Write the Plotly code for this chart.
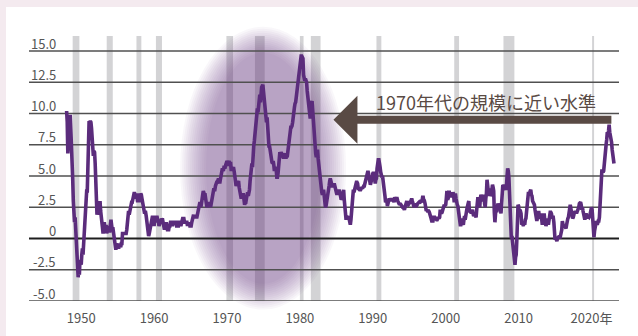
import numpy as np
import plotly.graph_objects as go

# US CPI, year-over-year change (%), monthly from Jan 1948
cpi_1948_49 = [10.2, 9.3, 6.8, 8.3, 9.4, 9.5, 9.9, 8.9, 6.5, 6.1, 4.8, 3.0,
               1.3, 1.3, 1.7, 0.4, -0.4, -0.9, -3.1, -3.1, -2.4, -2.9, -1.7, -2.1]
cpi_1950s = [-2.1, -1.3, -0.8, -1.3, -0.4, -0.4, 1.7, 2.2, 2.2, 3.8, 3.8, 5.9,
             8.1, 9.4, 9.3, 9.4, 9.3, 8.8, 7.5, 6.6, 6.6, 7.0, 6.9, 6.0,
             4.3, 2.3, 1.9, 2.3, 1.9, 2.3, 3.0, 3.0, 2.2, 1.9, 1.4, 0.9,
             0.4, 0.9, 1.3, 0.9, 0.9, 1.1, 0.4, 0.7, 0.7, 1.0, 0.6, 0.6,
             1.1, 1.5, 1.1, 0.7, 0.9, 0.4, 0.4, 0.0, -0.4, -0.9, -0.4, -0.7,
             -0.7, -0.7, -0.7, -0.4, -0.7, -0.7, -0.4, -0.4, 0.4, 0.4, 0.4, 0.4,
             0.4, 0.4, 0.4, 0.7, 1.1, 1.9, 2.2, 1.9, 2.2, 2.6, 2.6, 2.9,
             2.9, 3.3, 3.6, 3.6, 3.6, 3.2, 3.2, 3.6, 3.2, 2.9, 3.6, 2.9,
             3.6, 3.2, 3.6, 3.5, 3.2, 2.8, 2.5, 2.1, 2.1, 2.1, 2.1, 1.8,
             1.4, 1.1, 0.2, 0.2, 0.4, 0.7, 0.7, 1.1, 1.4, 1.7, 1.7, 1.7]
cpi_1960s = [1.0, 1.7, 1.4, 1.7, 1.7, 1.7, 1.4, 1.4, 1.0, 1.3, 1.3, 1.3,
             1.6, 1.5, 1.5, 1.0, 0.9, 0.7, 1.3, 1.0, 1.3, 0.7, 0.7, 0.7,
             0.7, 1.0, 1.0, 1.3, 1.3, 1.3, 1.0, 1.3, 1.3, 1.3, 1.3, 1.3,
             1.3, 1.0, 1.0, 1.0, 1.0, 1.3, 1.3, 1.3, 1.0, 1.3, 1.3, 1.6,
             1.6, 1.6, 1.3, 1.3, 1.3, 1.3, 1.3, 1.0, 1.3, 1.0, 1.3, 1.0,
             1.0, 1.0, 1.3, 1.6, 1.6, 1.9, 1.6, 1.9, 1.6, 1.9, 1.6, 1.9,
             1.9, 2.5, 2.5, 2.8, 2.8, 2.5, 2.8, 3.5, 3.5, 3.8, 3.5, 3.5,
             3.5, 2.8, 2.8, 2.5, 2.8, 2.8, 2.8, 2.8, 2.8, 2.5, 2.8, 3.1,
             3.7, 3.9, 3.9, 3.9, 3.9, 4.2, 4.5, 4.5, 4.5, 4.8, 4.8, 4.7,
             4.4, 4.7, 5.2, 5.5, 5.5, 5.5, 5.4, 5.7, 5.7, 5.7, 5.9, 6.2]
cpi_1970s = [6.2, 6.1, 5.8, 6.1, 6.1, 6.0, 6.0, 5.4, 5.7, 5.6, 5.6, 5.6,
             5.3, 5.0, 4.7, 4.2, 4.4, 4.6, 4.4, 4.6, 4.1, 3.8, 3.3, 3.3,
             3.3, 3.5, 3.5, 3.5, 3.2, 2.7, 2.9, 2.9, 3.2, 3.4, 3.7, 3.4,
             3.6, 3.9, 4.6, 5.1, 5.5, 6.0, 5.7, 7.4, 7.4, 7.8, 8.3, 8.7,
             9.4, 10.0, 10.4, 10.1, 10.7, 10.9, 11.5, 10.9, 11.9, 12.1, 12.2, 12.3,
             11.8, 11.2, 10.3, 10.2, 9.5, 9.3, 9.7, 8.6, 7.9, 7.4, 7.4, 6.9,
             6.7, 6.3, 6.1, 6.0, 6.2, 5.9, 5.4, 5.7, 5.5, 5.5, 4.9, 4.9,
             5.2, 6.0, 6.4, 6.9, 6.7, 6.9, 6.8, 6.6, 6.6, 6.4, 6.7, 6.7,
             6.8, 6.4, 6.6, 6.5, 6.9, 7.4, 7.7, 7.8, 8.3, 8.9, 8.9, 9.0,
             9.3, 9.9, 10.2, 10.5, 10.8, 10.9, 11.3, 11.8, 12.2, 12.1, 12.6, 13.3]
cpi_1980s = [13.9, 14.2, 14.6, 14.6, 14.4, 14.4, 13.1, 12.9, 12.6, 12.8, 12.6, 12.5,
             11.8, 11.4, 10.5, 10.0, 9.8, 9.6, 10.8, 10.8, 11.0, 10.1, 9.6, 8.9,
             8.4, 7.6, 6.8, 6.5, 6.7, 7.1, 6.4, 5.9, 5.0, 5.1, 4.6, 3.8,
             3.7, 3.5, 3.6, 3.9, 3.5, 2.6, 2.5, 2.6, 2.9, 2.9, 3.3, 3.8,
             4.2, 4.6, 4.8, 4.6, 4.2, 4.2, 4.2, 4.3, 4.3, 4.3, 4.1, 3.9,
             3.5, 3.5, 3.7, 3.7, 3.8, 3.8, 3.6, 3.3, 3.1, 3.2, 3.5, 3.8,
             3.9, 3.1, 2.3, 1.6, 1.5, 1.8, 1.6, 1.6, 1.8, 1.5, 1.3, 1.1,
             1.5, 2.1, 3.0, 3.8, 3.9, 3.7, 3.9, 4.3, 4.4, 4.5, 4.5, 4.4,
             4.0, 3.9, 3.9, 3.9, 3.9, 4.0, 4.1, 4.0, 4.2, 4.2, 4.2, 4.4,
             4.7, 4.8, 5.0, 5.1, 5.4, 5.2, 5.0, 4.7, 4.3, 4.5, 4.7, 4.6]
cpi_1990s = [5.2, 5.3, 5.2, 4.7, 4.4, 4.7, 4.8, 5.6, 6.2, 6.3, 6.3, 6.1,
             5.7, 5.3, 4.9, 4.9, 5.0, 4.7, 4.4, 3.8, 3.4, 2.9, 3.0, 3.1,
             2.6, 2.8, 3.2, 3.2, 3.0, 3.1, 3.2, 3.1, 3.0, 3.2, 3.0, 2.9,
             3.3, 3.2, 3.1, 3.2, 3.2, 3.0, 2.8, 2.8, 2.7, 2.8, 2.7, 2.7,
             2.5, 2.5, 2.5, 2.4, 2.3, 2.5, 2.8, 2.9, 3.0, 2.6, 2.7, 2.7,
             2.8, 2.9, 2.9, 3.1, 3.2, 3.0, 2.8, 2.6, 2.5, 2.8, 2.6, 2.5,
             2.7, 2.7, 2.8, 2.9, 2.9, 2.8, 3.0, 2.9, 3.0, 3.0, 3.3, 3.3,
             3.0, 3.0, 2.8, 2.5, 2.2, 2.3, 2.2, 2.2, 2.2, 2.1, 1.8, 1.7,
             1.6, 1.4, 1.4, 1.4, 1.7, 1.7, 1.7, 1.6, 1.5, 1.5, 1.5, 1.6,
             1.7, 1.6, 1.7, 2.3, 2.1, 2.0, 2.1, 2.3, 2.6, 2.6, 2.6, 2.7]
cpi_2000s = [2.7, 3.2, 3.8, 3.1, 3.2, 3.7, 3.7, 3.4, 3.5, 3.4, 3.4, 3.4,
             3.7, 3.5, 2.9, 3.3, 3.6, 3.2, 2.7, 2.7, 2.6, 2.1, 1.9, 1.6,
             1.1, 1.1, 1.5, 1.6, 1.2, 1.1, 1.5, 1.8, 1.5, 2.0, 2.2, 2.4,
             2.6, 3.0, 3.0, 2.2, 2.1, 2.1, 2.1, 2.2, 2.3, 2.0, 1.8, 1.9,
             1.9, 1.7, 1.7, 2.3, 3.1, 3.3, 3.0, 2.7, 2.5, 3.2, 3.5, 3.3,
             3.0, 3.0, 3.1, 3.5, 2.8, 2.5, 3.2, 3.6, 4.7, 4.3, 3.5, 3.4,
             4.0, 3.6, 3.4, 3.5, 4.2, 4.3, 4.1, 3.8, 2.1, 1.3, 2.0, 2.5,
             2.1, 2.4, 2.8, 2.6, 2.7, 2.7, 2.4, 2.0, 2.8, 3.5, 4.3, 4.1,
             4.3, 4.0, 4.0, 3.9, 4.2, 5.0, 5.6, 5.4, 4.9, 3.7, 1.1, 0.1,
             0.0, 0.2, -0.4, -0.7, -1.3, -1.4, -2.1, -1.5, -1.3, -0.2, 1.8, 2.7]
cpi_2010s = [2.6, 2.1, 2.3, 2.2, 2.0, 1.1, 1.2, 1.1, 1.1, 1.2, 1.1, 1.5,
             1.6, 2.1, 2.7, 3.2, 3.6, 3.6, 3.6, 3.8, 3.9, 3.5, 3.4, 3.0,
             2.9, 2.9, 2.7, 2.3, 1.7, 1.7, 1.4, 1.7, 2.0, 2.2, 1.8, 1.7,
             1.6, 2.0, 1.5, 1.1, 1.4, 1.8, 2.0, 1.5, 1.2, 1.0, 1.2, 1.5,
             1.6, 1.1, 1.5, 2.0, 2.1, 2.1, 2.0, 1.7, 1.7, 1.7, 1.3, 0.8,
             -0.1, 0.0, -0.1, -0.2, 0.0, 0.1, 0.2, 0.2, 0.0, 0.2, 0.5, 0.7,
             1.4, 1.0, 0.9, 1.1, 1.0, 1.0, 0.8, 1.1, 1.5, 1.6, 1.7, 2.1,
             2.5, 2.7, 2.4, 2.2, 1.9, 1.6, 1.7, 1.9, 2.2, 2.0, 2.2, 2.1,
             2.1, 2.2, 2.4, 2.5, 2.8, 2.9, 2.9, 2.7, 2.3, 2.5, 2.2, 1.9,
             1.6, 1.5, 1.9, 2.0, 1.8, 1.6, 1.8, 1.7, 1.7, 1.8, 2.1, 2.3]
cpi_2020s = [2.5, 2.3, 1.5, 0.3, 0.1, 0.6, 1.0, 1.3, 1.4, 1.2, 1.2, 1.4,
             1.4, 1.7, 2.6, 4.2, 5.0, 5.4, 5.4, 5.3, 5.4, 6.2, 6.8, 7.0,
             7.5, 7.9, 8.5, 8.3, 8.6, 9.1, 8.5, 8.3, 8.2, 7.7, 7.1, 6.5,
             6.4, 6.0]
first_year = 1948

# NBER recessions (peak, trough) as fractional years
recessions = [(1948.83, 1949.75), (1953.50, 1954.33), (1957.58, 1958.25),
              (1960.25, 1961.08), (1969.92, 1970.83), (1973.83, 1975.17),
              (1980.00, 1980.50), (1981.50, 1982.83), (1990.50, 1991.17),
              (2001.17, 2001.83), (2007.92, 2009.42), (2020.08, 2020.35)]

y_ticks = [-5, -2.5, 0, 2.5, 5, 7.5, 10, 12.5, 15]
y_tick_text = ["-5.0", "-2.5", "0", "2.5", "5.0", "7.5", "10.0", "12.5", "15.0"]
x_ticks = [1950, 1960, 1970, 1980, 1990, 2000, 2010, 2020]
x_tick_text = ["1950", "1960", "1970", "1980", "1990", "2000", "2010", "2020年"]

note_text = "1970年代の規模に近い水準"
highlight_years = (1965.35, 1984.55)
highlight_vals = (-4.65, 15.9)

# ---- build ----
values = (cpi_1948_49 + cpi_1950s + cpi_1960s + cpi_1970s + cpi_1980s
          + cpi_1990s + cpi_2000s + cpi_2010s + cpi_2020s)
dates = first_year + np.arange(len(values)) / 12.0

W, H = 638, 336
ML, MR, MT, MB = 29, 19, 36, 35
PW, PH = W - ML - MR, H - MT - MB
X_RANGE = [1942.84, 2023.77]
Y_RANGE = [-5.0, 16.2]

PURPLE = "#5b2c7c"
BROWN = "#594a44"
PINK = "#f4eaef"
FONT = "Noto Sans CJK JP"
TICK_FONT = dict(family=FONT, size=13, color="#555555")


def px_to_paper_x(px):
    return (px - ML) / PW


def px_to_paper_y(py):
    return (H - MB - py) / PH


def val_to_paper_y(v):
    return (v - Y_RANGE[0]) / (Y_RANGE[1] - Y_RANGE[0])


shapes = []
# pink page edge along the top and left of the white card
shapes.append(dict(type="rect", xref="paper", yref="paper",
                   x0=px_to_paper_x(-2), x1=px_to_paper_x(W + 2),
                   y0=px_to_paper_y(7), y1=px_to_paper_y(-2),
                   fillcolor=PINK, line=dict(width=0), layer="above"))
shapes.append(dict(type="rect", xref="paper", yref="paper",
                   x0=px_to_paper_x(-2), x1=px_to_paper_x(6),
                   y0=px_to_paper_y(H + 2), y1=px_to_paper_y(-2),
                   fillcolor=PINK, line=dict(width=0), layer="above"))
# recession bands
for r0, r1 in recessions:
    shapes.append(dict(type="rect", xref="x", yref="paper", x0=r0, x1=r1,
                       y0=0, y1=1, fillcolor="#d3d3d5", line=dict(width=0),
                       layer="below"))
# soft-edged highlight ellipse: stacked translucent ellipses
n_layers = 14
alpha = 1 - (1 - 0.42) ** (1 / n_layers)
px_per_year = PW / (X_RANGE[1] - X_RANGE[0])
px_per_val = PH / (Y_RANGE[1] - Y_RANGE[0])
fade_px = 13
for i in range(n_layers):
    t = i / (n_layers - 1)
    d = fade_px * (1 - 2 * t)
    dx = d / px_per_year
    dv = d / px_per_val
    shapes.append(dict(type="circle", xref="x", yref="paper",
                       x0=highlight_years[0] - dx, x1=highlight_years[1] + dx,
                       y0=val_to_paper_y(highlight_vals[0] - dv),
                       y1=val_to_paper_y(highlight_vals[1] + dv),
                       fillcolor=f"rgba(92,44,124,{alpha:.4f})",
                       line=dict(width=0), layer="below"))
# horizontal rules at each y tick, with a heavier baseline at zero
for v in y_ticks:
    is_zero = v == 0
    shapes.append(dict(type="line", xref="paper", yref="y", x0=0, x1=1,
                       y0=v, y1=v, layer="below",
                       line=dict(color="#1e1e1e" if is_zero else "#505050",
                                 width=2 if is_zero else 1.5)))

fig = go.Figure()
fig.add_trace(go.Scatter(x=dates, y=values, mode="lines",
                         line=dict(color=PURPLE, width=3.6),
                         hoverinfo="skip", showlegend=False))

annotations = [
    dict(x=2005.55, y=10.92, xref="x", yref="y", text=note_text,
         showarrow=False, xanchor="center", yanchor="middle",
         font=dict(family=FONT, size=18, color=BROWN)),
    dict(x=1984.6, y=9.51, xref="x", yref="y", ax=2022.93, ay=9.51,
         axref="x", ayref="y", text="", showarrow=True, arrowhead=1,
         arrowsize=1, arrowwidth=8, arrowcolor=BROWN),
]
# value labels sit just above their rules, right-aligned inside the plot
for v, label in zip(y_ticks, y_tick_text):
    annotations.append(dict(x=px_to_paper_x(58), y=v, xref="paper", yref="y",
                            text=label, showarrow=False, xanchor="right",
                            yanchor="middle", yshift=8, font=TICK_FONT))

fig.update_layout(
    template="none",
    width=W, height=H,
    margin=dict(l=ML, r=MR, t=MT, b=MB, pad=0),
    paper_bgcolor="white",
    plot_bgcolor="white",
    shapes=shapes,
    annotations=annotations,
    showlegend=False,
    xaxis=dict(range=X_RANGE, tickvals=x_ticks, ticktext=x_tick_text,
               showgrid=False, zeroline=False, showline=False,
               ticks="outside", ticklen=5, tickcolor="rgba(0,0,0,0)",
               tickfont=TICK_FONT, fixedrange=True),
    yaxis=dict(range=Y_RANGE, tickvals=y_ticks, showticklabels=False,
               showgrid=False, zeroline=False,
               showline=False, ticks="", fixedrange=True),
)

fig.write_html("out.html")
